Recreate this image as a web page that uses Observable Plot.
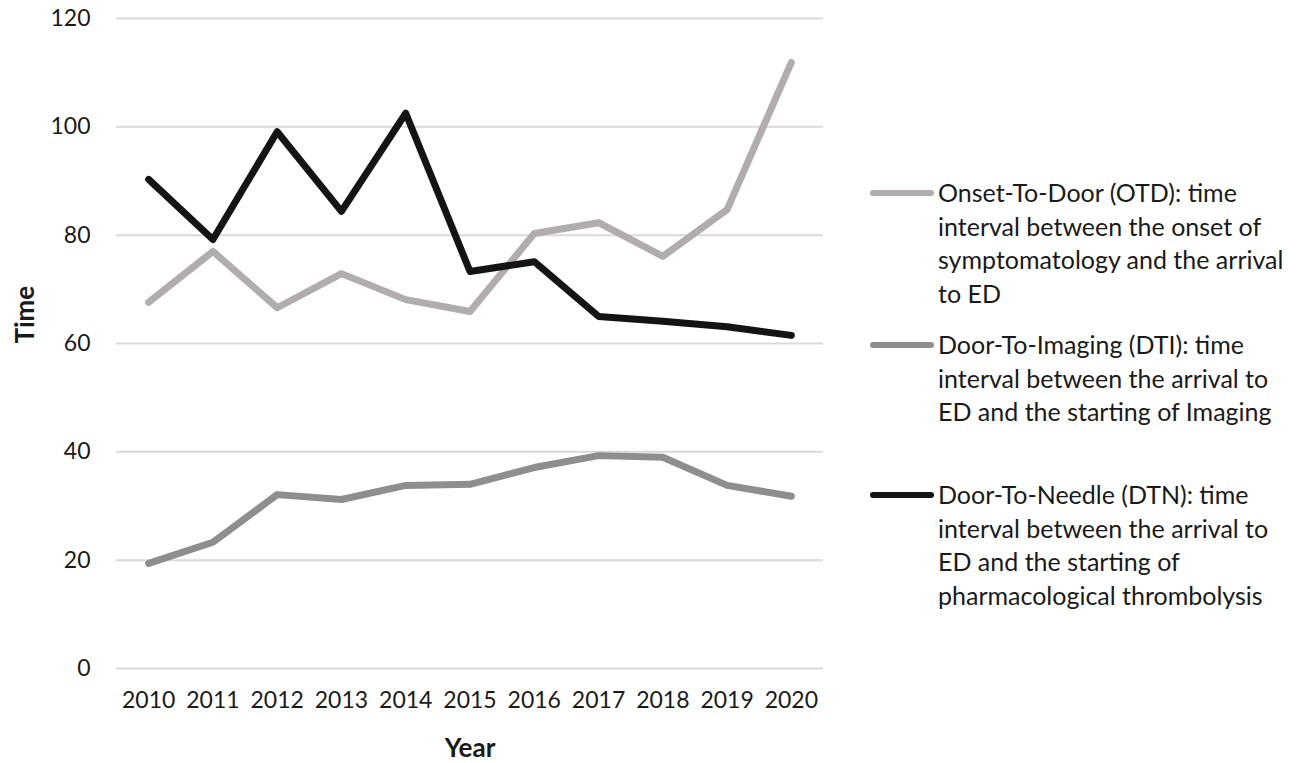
<!DOCTYPE html>
<html><head><meta charset="utf-8">
<script src="https://cdn.jsdelivr.net/npm/d3@7"></script>
<script src="https://cdn.jsdelivr.net/npm/@observablehq/plot@0.6"></script>
<style>
body{margin:0;background:#fff;font-family:Lato,"Open Sans",sans-serif;color:#1a1a1a;}
#wrap{position:relative;width:1309px;height:763px;}
.item{position:absolute;left:870px;font-size:25px;line-height:33.5px;}
.sw{position:absolute;left:0;width:64px;height:6px;border-radius:3px;}
.tx{position:absolute;left:68px;white-space:nowrap;}
</style>
</head><body><div id="wrap"></div>
<script>
const years = [2010, 2011, 2012, 2013, 2014, 2015, 2016, 2017, 2018, 2019, 2020];
const otd = [67.6, 77.0, 66.6, 72.9, 68.1, 65.9, 80.3, 82.3, 76.1, 84.7, 111.9];
const dti = [19.4, 23.3, 32.1, 31.2, 33.8, 34.0, 37.1, 39.3, 39.0, 33.8, 31.8];
const dtn = [90.3, 79.2, 99.1, 84.4, 102.5, 73.3, 75.1, 65.0, 64.1, 63.1, 61.5];
const yTicks = [0, 20, 40, 60, 80, 100, 120];
const seriesKeys = ["OTD", "DTI", "DTN"];
const seriesColors = ["#b1adac", "#8e8e8e", "#141414"];
const legendLines = [
  ["Onset-To-Door (OTD): time", "interval between the onset of", "symptomatology and the arrival", "to ED"],
  ["Door-To-Imaging (DTI): time", "interval between the arrival to", "ED and the starting of Imaging"],
  ["Door-To-Needle (DTN): time", "interval between the arrival to", "ED and the starting of", "pharmacological thrombolysis"]
];
const legendTops = [176, 328, 478];

const values = {OTD: otd, DTI: dti, DTN: dtn};
const data = seriesKeys.flatMap(k => years.map((y, i) => ({year: y, value: values[k][i], series: k})));

const chart = Plot.plot({
  width: 1309, height: 763,
  marginLeft: 116, marginRight: 486, marginTop: 18, marginBottom: 95,
  style: {fontFamily: "Lato, 'Open Sans', sans-serif", color: "#1a1a1a", background: "#fff"},
  x: {domain: [2009.5, 2020.5]},
  y: {domain: [0, 120]},
  color: {domain: seriesKeys, range: seriesColors},
  marks: [
    Plot.gridY(yTicks, {stroke: "#d9d9d9", strokeOpacity: 1, strokeWidth: 2}),
    Plot.axisY(yTicks, {tickSize: 0, tickPadding: 26, fontSize: 23, label: null, fill: "#1a1a1a"}),
    Plot.axisX(years, {tickSize: 0, tickPadding: 23, fontSize: 23, label: null, tickFormat: d => String(d), fill: "#1a1a1a"}),
    Plot.lineY(data, {x: "year", y: "value", z: "series", stroke: "series", strokeWidth: 7, strokeLinecap: "round", strokeLinejoin: "round"}),
    Plot.text(["Time"], {frameAnchor: "left", dx: -91, rotate: -90, fontSize: 26, fontWeight: "bold", fill: "#1a1a1a"}),
    Plot.text(["Year"], {frameAnchor: "bottom", dy: 88, fontSize: 26, fontWeight: "bold", fill: "#1a1a1a"})
  ]
});
const wrap = document.getElementById("wrap");
wrap.appendChild(chart);
chart.style.position = "absolute"; chart.style.left = "0"; chart.style.top = "0";

seriesKeys.forEach((k, i) => {
  const item = document.createElement("div");
  item.className = "item";
  item.style.top = legendTops[i] + "px";
  const sw = document.createElement("div");
  sw.className = "sw"; sw.style.background = seriesColors[i];
  sw.style.top = "14px";
  const tx = document.createElement("div");
  tx.className = "tx";
  tx.innerHTML = legendLines[i].join("<br>");
  item.appendChild(sw); item.appendChild(tx);
  wrap.appendChild(item);
});
</script>
</body></html>
